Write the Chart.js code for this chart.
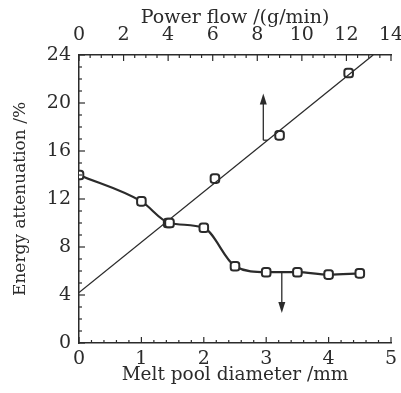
<!DOCTYPE html>
<html>
<head>
<meta charset="utf-8">
<script src="https://cdn.jsdelivr.net/npm/chart.js@4.4.1/dist/chart.umd.min.js"></script>
<style>
html,body{margin:0;padding:0;background:#fff;}
#wrap{width:401px;height:393px;}
</style>
</head>
<body>
<div id="wrap"><canvas id="Chart1"></canvas></div>
<script>
// melt pool diameter (bottom axis) vs energy attenuation
var diameter = [0, 1, 1.45, 2, 2.5, 3, 3.5, 4, 4.5];
var attenDia = [14.0, 11.8, 10.0, 9.6, 6.4, 5.9, 5.9, 5.7, 5.8];
// power flow (top axis) vs energy attenuation
var powerFlow = [4, 6.1, 9, 12.1];
var attenPow = [10.0, 13.7, 17.3, 22.5];
// fitted straight line for power flow
var fitPow = [0, 13.2];
var fitAtt = [4.2, 24];
// arrows: [axis, xValue, fromY, toY]
var arrowUp = ['x2', 8.27, 16.9, 20.8];
var arrowDown = ['x', 3.25, 5.9, 2.5];

var ink = '#2b2b2b';
var fontFam = "'DejaVu Serif', serif";

function pts(xs, ys){
    var out = [];
    for (var i = 0; i < xs.length; i++) { out.push({x: xs[i], y: ys[i]}); }
    return out;
}
function noSidePad(s){ s.paddingLeft = 0; s.paddingRight = 0; }

var tickPlugin = {
    id: 'innerTicks',
    afterDraw: function(chart){
        var ctx = chart.ctx;
        var ca = chart.chartArea;
        var sx = chart.scales.x, sx2 = chart.scales.x2, sy = chart.scales.y;
        ctx.save();
        ctx.strokeStyle = ink;
        ctx.lineWidth = 1.2;
        function tick(x1, y1, x2, y2){ ctx.beginPath(); ctx.moveTo(x1, y1); ctx.lineTo(x2, y2); ctx.stroke(); }
        var v, p;
        // bottom
        for (v = 0; v <= 5.0001; v += 0.2) {
            p = sx.getPixelForValue(v);
            var maj = Math.abs(v - Math.round(v)) < 0.01;
            tick(p, ca.bottom, p, ca.bottom - (maj ? 6 : 3));
        }
        // top
        for (v = 0; v <= 14.0001; v += 0.5) {
            p = sx2.getPixelForValue(v);
            var majT = Math.abs(v / 2 - Math.round(v / 2)) < 0.01;
            tick(p, ca.top, p, ca.top + (majT ? 6 : 3));
        }
        // left
        for (v = 0; v <= 24.0001; v += 1) {
            p = sy.getPixelForValue(v);
            tick(ca.left, p, ca.left + (v % 4 === 0 ? 6 : 3), p);
        }
        // arrows
        [arrowUp, arrowDown].forEach(function(a){
            var sc = chart.scales[a[0]];
            var xp = sc.getPixelForValue(a[1]);
            var y1 = sy.getPixelForValue(a[2]);
            var y2 = sy.getPixelForValue(a[3]);
            var dir = y2 < y1 ? -1 : 1;
            ctx.lineWidth = 1.3;
            tick(xp, y1, xp, y2 - dir * 8);
            ctx.fillStyle = ink;
            ctx.beginPath();
            ctx.moveTo(xp, y2);
            ctx.lineTo(xp - 3.5, y2 - dir * 11);
            ctx.lineTo(xp + 3.5, y2 - dir * 11);
            ctx.closePath();
            ctx.fill();
        });
        // small hook from up arrow to the fit line
        var hy = sy.getPixelForValue(arrowUp[2]);
        var hx = sx2.getPixelForValue(arrowUp[1]);
        var lx = sx2.getPixelForValue((arrowUp[2] - fitAtt[0]) / ((fitAtt[1] - fitAtt[0]) / (fitPow[1] - fitPow[0])));
        tick(hx, hy, lx, hy);
        ctx.restore();
    }
};

var ctx = document.getElementById('Chart1').getContext('2d');
var chart = new Chart(ctx, {
    type: 'scatter',
    data: {
        datasets: [
            {data: pts(diameter, attenDia), xAxisID: 'x', showLine: true, cubicInterpolationMode: 'monotone',
             borderColor: ink, borderWidth: 2.2, pointStyle: 'rectRounded', pointRadius: 5,
             pointBorderWidth: 2, pointBackgroundColor: '#fff', pointBorderColor: ink},
            {data: pts(fitPow, fitAtt), xAxisID: 'x2', showLine: true, borderColor: ink, borderWidth: 1.3,
             pointRadius: 0},
            {data: pts(powerFlow, attenPow), xAxisID: 'x2', showLine: false, pointStyle: 'rectRounded',
             pointRadius: 5, pointBorderWidth: 2, pointBackgroundColor: '#fff', pointBorderColor: ink}
        ]
    },
    options: {
        responsive: true,
        maintainAspectRatio: false,
        animation: false,
        layout: {padding: {left: 0, right: 10, top: 0, bottom: 0}},
        plugins: {legend: {display: false}, tooltip: {enabled: false}},
        scales: {
            x: {type: 'linear', position: 'bottom', min: 0, max: 5,
                afterFit: function(s){ s.height = 50; noSidePad(s); },
                grid: {display: false, drawTicks: false}, border: {display: true, color: ink, width: 1.5},
                ticks: {stepSize: 1, padding: 5, color: ink, font: {family: fontFam, size: 19}},
                title: {display: true, text: 'Melt pool diameter /mm', color: ink, padding: {top: 7, bottom: 7},
                        font: {family: fontFam, size: 18.5}}},
            x2: {type: 'linear', position: 'top', min: 0, max: 14,
                afterFit: function(s){ s.height = 55; noSidePad(s); },
                grid: {display: false, drawTicks: false}, border: {display: true, color: ink, width: 1.5},
                ticks: {stepSize: 2, padding: 9, color: ink, font: {family: fontFam, size: 19}},
                title: {display: true, text: 'Power flow /(g/min)', color: ink, padding: {top: 7, bottom: 7},
                        font: {family: fontFam, size: 19}}},
            y: {type: 'linear', position: 'left', min: 0, max: 24,
                afterFit: function(s){ s.width = 79; },
                grid: {display: false, drawTicks: false}, border: {display: true, color: ink, width: 1.5},
                ticks: {stepSize: 4, padding: 8, color: ink, font: {family: fontFam, size: 19}},
                title: {display: true, text: 'Energy attenuation /%', color: ink, padding: {top: 10, bottom: 10},
                        font: {family: fontFam, size: 17}}}
        }
    },
    plugins: [tickPlugin]
});
</script>
</body>
</html>
